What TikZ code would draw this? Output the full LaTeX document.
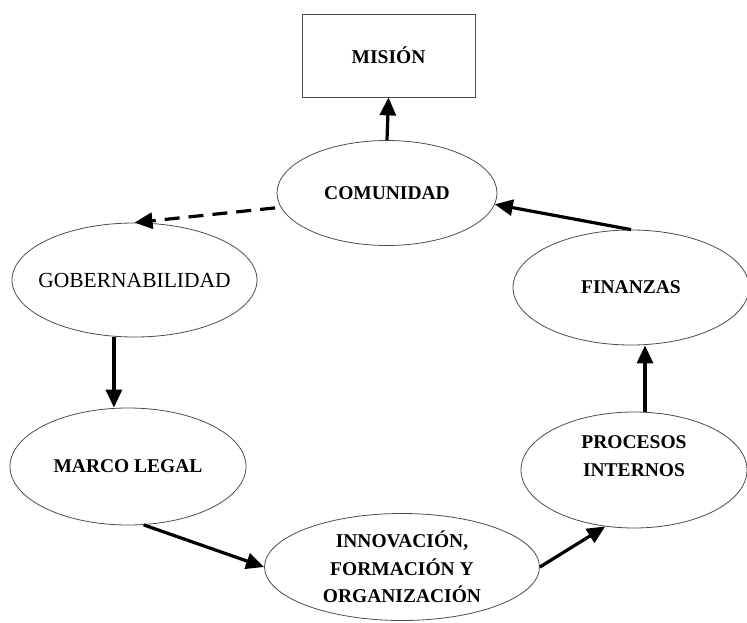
\documentclass[tikz,border=0pt]{standalone}
\usepackage{fontspec}
\setmainfont{Liberation Serif}
\usetikzlibrary{shapes.geometric,arrows.meta}

\begin{document}
\begin{tikzpicture}[x=1pt, y=-1pt,
        elipse/.style={ellipse, draw=black!70, line width=0.8pt, inner sep=0pt, align=center,
            font=\fontsize{19.5}{27.5}\selectfont\bfseries},
        flecha/.style={-{Triangle[length=18pt,width=16pt]}, line width=3.2pt}]
        \useasboundingbox (0,0) rectangle (747,623);

        % Caja superior
        \node[draw=black!70, line width=0.8pt, minimum width=173pt, minimum height=83pt,
            font=\fontsize{19.5}{27}\selectfont\bfseries] (mision) at (388.5,55.5) {MISIÓN};

        % Elipses
        \node[elipse, minimum width=220pt, minimum height=105pt] (comunidad) at (387,193) {COMUNIDAD};
        \node[elipse, minimum width=245pt, minimum height=114pt, font=\fontsize{21.5}{27}\selectfont] (gob) at (134.5,280) {\makebox[140pt]{GOBERNABILIDAD}};
        \node[elipse, minimum width=236pt, minimum height=115pt] (finanzas) at (631,287.5) {FINANZAS};
        \node[elipse, minimum width=236pt, minimum height=117pt] (marco) at (128,466.5) {MARCO LEGAL};
        \node[elipse, minimum width=226pt, minimum height=116pt] (procesos) at (634,470) {PROCESOS\\INTERNOS\\\mbox{}};
        \node[elipse, minimum width=275pt, minimum height=107pt] (innov) at (402,567) {INNOVACIÓN,\\FORMACIÓN Y\\ORGANIZACIÓN};

        % Flechas
        \draw[flecha] (comunidad.north) -- (mision.south);
        \draw[flecha, dash pattern=on 15pt off 9pt] ([xshift=-6pt]comunidad.188) -- (gob.north);
        \draw[flecha] (finanzas.north) -- (comunidad.-6);
        \draw[flecha] (gob.250) -- (gob.250 |- marco.north);
        \draw[flecha] (marco.-75) -- (innov.west);
        \draw[flecha] (innov.east) -- (procesos.243);
        \draw[flecha] ([xshift=11pt]procesos.north) -- ([xshift=11pt]procesos.north |- finanzas.south);

    \end{tikzpicture}
\end{document}
